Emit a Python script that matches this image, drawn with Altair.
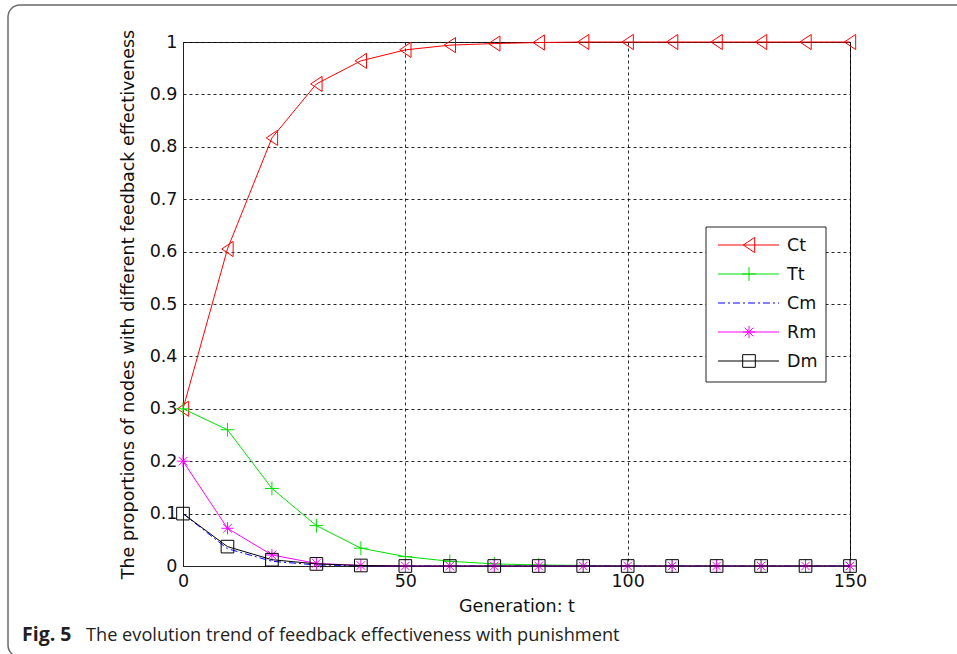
import altair as alt
import pandas as pd

# Generations at which each proportion is recorded
generations = list(range(0, 151, 10))

# Proportions of nodes per feedback-effectiveness type
ct = [0.300, 0.605, 0.817, 0.920, 0.964, 0.985, 0.994, 0.997, 0.999, 1.0, 1.0, 1.0, 1.0, 1.0, 1.0, 1.0]
tt = [0.300, 0.260, 0.148, 0.077, 0.034, 0.018, 0.009, 0.004, 0.002, 0.001, 0.0, 0.0, 0.0, 0.0, 0.0, 0.0]
cm = [0.100, 0.033, 0.009, 0.002, 0.0005, 0.0, 0.0, 0.0, 0.0, 0.0, 0.0, 0.0, 0.0, 0.0, 0.0, 0.0]
rm = [0.200, 0.072, 0.021, 0.005, 0.001, 0.0, 0.0, 0.0, 0.0, 0.0, 0.0, 0.0, 0.0, 0.0, 0.0, 0.0]
dm = [0.100, 0.037, 0.012, 0.004, 0.001, 0.0, 0.0, 0.0, 0.0, 0.0, 0.0, 0.0, 0.0, 0.0, 0.0, 0.0]

series_names = ["Ct", "Tt", "Cm", "Rm", "Dm"]
series_values = [ct, tt, cm, rm, dm]

x_ticks = [0, 50, 100, 150]
y_ticks = [round(i * 0.1, 1) for i in range(11)]

x_title = "Generation: t"
y_title = "The proportions of nodes with different feedback effectiveness"
caption_bold = "Fig. 5"
caption_text = "The evolution trend of feedback effectiveness with punishment"

W, H = 667, 524
LEFT, TOP = 183, 42
FONT = "DejaVu Sans"

# Marker paths in the unit box [-1, 1]
TRI_LEFT = "M-0.75,0L0.75,-1L0.75,1Z"
PLUS = "M-1,0L1,0M0,-1L0,1"
STAR = "M-1,0L1,0M0,-1L0,1M-0.7,-0.7L0.7,0.7M-0.7,0.7L0.7,-0.7"

styles = {
    "Ct": dict(color="#ff0000", shape=TRI_LEFT, size=230, dash=None),
    "Tt": dict(color="#00e000", shape=PLUS, size=190, dash=None),
    "Cm": dict(color="#0000ff", shape=None, size=0, dash=[7, 3, 2, 3]),
    "Rm": dict(color="#ff00ff", shape=STAR, size=150, dash=None),
    "Dm": dict(color="#000000", shape="square", size=160, dash=None),
}

records = []
for name, vals in zip(series_names, series_values):
    for g, v in zip(generations, vals):
        records.append({"series": name, "generation": g, "value": v})
df = pd.DataFrame(records)

x_enc = alt.X(
    "generation:Q",
    scale=alt.Scale(domain=[0, 150], nice=False, zero=False),
    axis=alt.Axis(values=x_ticks, title=x_title, titlePadding=8, labelFlush=False),
)
y_enc = alt.Y(
    "value:Q",
    scale=alt.Scale(domain=[0, 1], nice=False),
    axis=alt.Axis(values=y_ticks, format="~g", title=y_title, titlePadding=12,
                  labelFlush=False),
)

# Figure frame with rounded corners (outline only)
frame = alt.Chart(pd.DataFrame({"k": [0]})).mark_rect(
    fill="white", fillOpacity=0, stroke="#6a6a6a", strokeWidth=1.5, cornerRadius=12
).encode(
    x=alt.value(8 - LEFT), x2=alt.value(1000 - LEFT),
    y=alt.value(5 - TOP), y2=alt.value(657 - TOP),
)

layers = [frame]
for name in series_names:
    st = styles[name]
    sub = df[df.series == name]
    line_kw = dict(color=st["color"], strokeWidth=1)
    if st["dash"]:
        line_kw["strokeDash"] = st["dash"]
    layers.append(alt.Chart(sub).mark_line(**line_kw).encode(x=x_enc, y=y_enc))
    if st["shape"]:
        layers.append(
            alt.Chart(sub).mark_point(
                shape=st["shape"], size=st["size"], filled=False,
                color=st["color"], strokeWidth=1, opacity=1,
            ).encode(x=x_enc, y=y_enc)
        )

# Legend box and entries
leg_x0, leg_x1 = 706 - LEFT, 826 - LEFT
leg_y0, leg_y1 = 227 - TOP, 382 - TOP
layers.append(
    alt.Chart(pd.DataFrame({"k": [0]})).mark_rect(
        fill="white", stroke="#222222", strokeWidth=1
    ).encode(x=alt.value(leg_x0), x2=alt.value(leg_x1),
             y=alt.value(leg_y0), y2=alt.value(leg_y1))
)
for i, name in enumerate(series_names):
    st = styles[name]
    yy = 245 + 29 * i - TOP
    entry = pd.DataFrame({"series": [name]})
    rule_kw = dict(color=st["color"], strokeWidth=1)
    if st["dash"]:
        rule_kw["strokeDash"] = st["dash"]
    layers.append(
        alt.Chart(entry).mark_rule(**rule_kw).encode(
            x=alt.value(718 - LEFT), x2=alt.value(779 - LEFT), y=alt.value(yy)
        )
    )
    if st["shape"]:
        layers.append(
            alt.Chart(entry).mark_point(
                shape=st["shape"], size=st["size"], filled=False,
                color=st["color"], strokeWidth=1, opacity=1,
            ).encode(x=alt.value(749 - LEFT), y=alt.value(yy))
        )
    layers.append(
        alt.Chart(entry).mark_text(
            align="left", baseline="middle", font=FONT, fontSize=17.5, color="#111111"
        ).encode(x=alt.value(787 - LEFT), y=alt.value(yy + 1), text="series:N")
    )

# Caption below the plot
cap = pd.DataFrame({"bold": [caption_bold], "text": [caption_text]})
layers.append(
    alt.Chart(cap).mark_text(
        align="left", baseline="alphabetic", font="Open Sans", fontWeight="bold",
        fontSize=19.5, color="#231f20"
    ).encode(x=alt.value(22 - LEFT), y=alt.value(641 - TOP), text="bold:N")
)
layers.append(
    alt.Chart(cap).mark_text(
        align="left", baseline="alphabetic", font="Open Sans",
        fontSize=18.2, color="#231f20"
    ).encode(x=alt.value(86 - LEFT), y=alt.value(641 - TOP), text="text:N")
)

chart = alt.layer(*layers).properties(
    width=W, height=H,
    background="white",
    autosize=alt.AutoSizeParams(type="none"),
    padding={"left": LEFT, "top": TOP, "right": 957 - LEFT - W, "bottom": 654 - TOP - H},
).configure_view(
    stroke="#222222", strokeWidth=1
).configure_axis(
    labelFont=FONT, labelFontSize=17.5, labelColor="#111111",
    titleFont=FONT, titleFontSize=17.5, titleColor="#111111", titleFontWeight="normal",
    domainColor="#222222", domainWidth=1, ticks=False, labelPadding=6,
    grid=True, gridColor="#000000", gridDash=[3, 3], gridOpacity=0.85, gridWidth=1,
)

chart.save("out.html", embed_options={"renderer": "svg", "actions": False})
